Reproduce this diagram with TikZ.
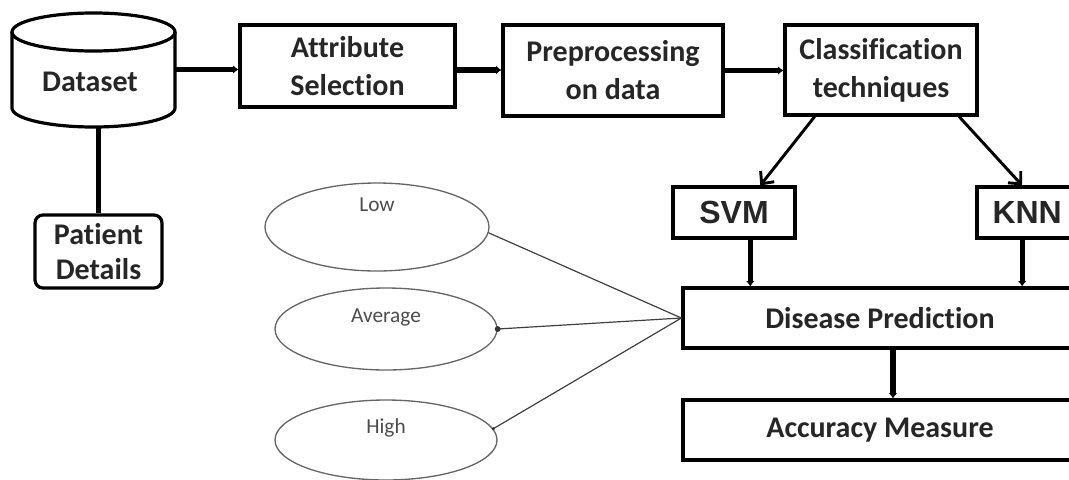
\documentclass[tikz,border=0pt]{standalone}
\usepackage{fontspec}
\setmainfont{Carlito}[Ligatures=NoCommon]
\newfontfamily\arialb{Liberation Sans}
\usetikzlibrary{arrows.meta,shapes.geometric,calc}
\begin{document}
\begin{tikzpicture}[x=0.75pt,y=-0.75pt,
  box/.style={draw, line width=2.4pt, fill=white, inner sep=0pt, align=center,
    text=black!85, font=\bfseries\fontsize{22.5}{28.5}\selectfont},
  bigbox/.style={box, font=\arialb\bfseries\fontsize{24}{28}\selectfont},
  ellip/.style={ellipse, draw=black!60, line width=1pt, inner sep=0pt},
  etext/.style={font=\fontsize{16}{18}\selectfont, text=black!70},
  conn/.style={line width=3.8pt, -{Latex[length=4pt,width=6.5pt]}},
  plainconn/.style={line width=3.8pt},
  diag/.style={line width=2.2pt, -{Straight Barb[length=7pt,width=13pt,line width=2.2pt]}},
  thinconn/.style={line width=0.9pt, draw=black!75}
]
\useasboundingbox (0,0) rectangle (1069,479);
% dataset cylinder
\draw[line width=2.4pt, fill=white] (12,32) -- (12,108)
  arc[start angle=180, end angle=0, x radius=81.5, y radius=19] -- (175,32);
\draw[line width=2.4pt] (93.5,32) ellipse [x radius=81.5, y radius=19];
\node[minimum width=122.25pt, minimum height=86.25pt, inner sep=0pt] (ds) at (93.5,69.5) {};
\node[font=\bfseries\fontsize{22.5}{28}\selectfont, text=black!85] (dstext) at (90,82) {Dataset};

\node[box, minimum width=161.25pt, minimum height=61.5pt] (attr) at (347.5,66) {Attribute\\Selection};
\node[box, minimum width=165pt, minimum height=68.25pt] (prep) at (613,70.5) {Preprocessing\\on data};
\node[box, minimum width=144pt, minimum height=67.5pt] (cls) at (881,70) {Classification\\techniques};
\node[bigbox, minimum width=91.5pt, minimum height=38.25pt] (svm) at (734,212.5) {SVM};
\node[bigbox, minimum width=77.25pt, minimum height=38.25pt] (knn) at (1028.5,212.5) {\hspace*{-2pt}KNN};
\node[box, minimum width=295.5pt, minimum height=45pt] (dis) at (880,318) {Disease Prediction};
\node[box, minimum width=295.5pt, minimum height=45pt] (acc) at (880,430) {Accuracy Measure};
\node[box, rounded corners=6pt, minimum width=95.25pt, minimum height=54.75pt, font=\bfseries\fontsize{22.5}{26}\selectfont] (pat) at (98.5,251.5) {Patient\\Details};

% ellipses
\node[ellip, minimum width=168pt, minimum height=66pt] (low) at (377,227) {};
\node[ellip, minimum width=166.5pt, minimum height=61.5pt] (avg) at (386,329) {};
\node[ellip, minimum width=166.5pt, minimum height=60pt] (high) at (386,440) {};
\node[etext] (lowt) at ($(low)+(0,-22)$) {Low};
\node[etext] (avgt) at ($(avg)+(0,-12)$) {Average};
\node[etext] (hight) at ($(high)+(0,-12)$) {High};

% connectors
\draw[conn] (ds.east) -- (ds.east -| attr.west);
\draw[conn] ([yshift=-3pt]attr.east) -- ([yshift=-3pt]attr.east -| prep.west);
\draw[conn] (prep.east) -- (prep.east -| cls.west);
\draw[plainconn] (pat.north) -- (pat.north |- ds.south);

\coordinate (c1) at ($(cls.south west)!0.16!(cls.south east)$);
\coordinate (c2) at ($(cls.south west)!0.90!(cls.south east)$);
\coordinate (s0) at ($(svm.north west)!0.71!(svm.north east)$);
\coordinate (k0) at ($(knn.north west)!0.44!(knn.north east)$);
\draw[diag] (c1) -- (s0);
\draw[diag] (c2) -- (k0);

\coordinate (s1) at ($(svm.south west)!0.63!(svm.south east)$);
\coordinate (k1) at ($(knn.south west)!0.44!(knn.south east)$);
\coordinate (d1) at ($(dis.south)+(13,0)$);
\draw[conn] (s1) -- (s1 |- dis.north);
\draw[conn] (k1) -- (k1 |- dis.north);
\draw[conn] (d1) -- (d1 |- acc.north);

\draw[thinconn] (low.-3) -- (dis.west);
\draw[thinconn] (avg.east) -- (dis.west);
\draw[thinconn] (high.6) -- (dis.west);
\fill[black!80] (avg.east) circle[radius=2.2pt];
\fill[black!80] (high.6) circle[radius=1.3pt];
\end{tikzpicture}
\end{document}
